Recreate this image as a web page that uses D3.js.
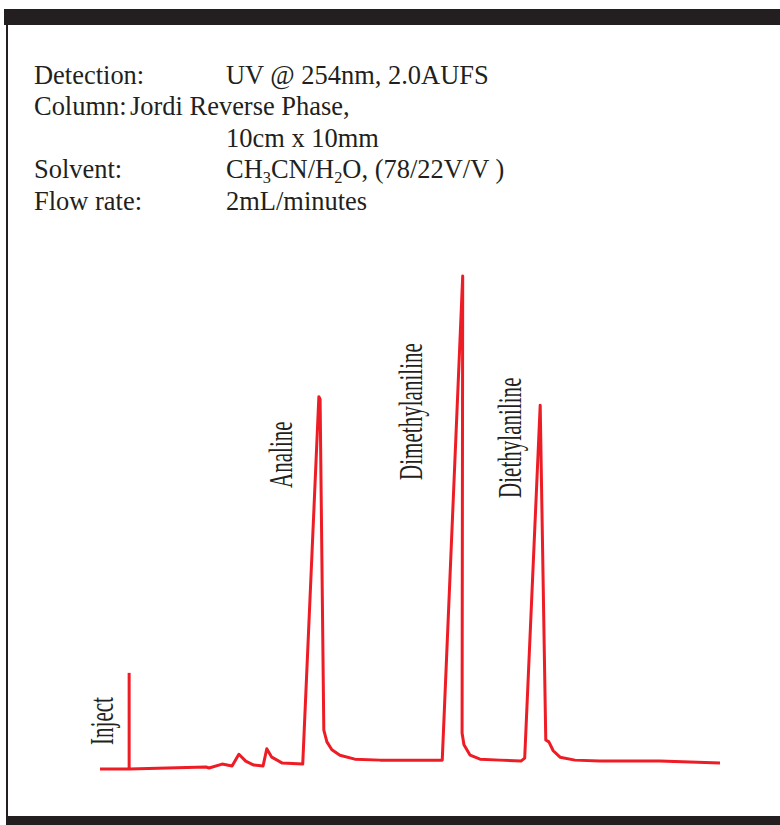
<!DOCTYPE html>
<html><head><meta charset="utf-8">
<script src="https://cdn.jsdelivr.net/npm/d3@7"></script>
<style>html,body{margin:0;padding:0;background:#fff}</style>
</head><body>
<script>
// ---- data ----
// header conditions
const headerLabels = ["Detection:", "Column:", "", "Solvent:", "Flow rate:"];
const headerValues = [
  [["UV @ 254nm, 2.0AUFS", 0]],
  [["Jordi Reverse Phase,", 0]],
  [["10cm x 10mm", 0]],
  [["CH", 0], ["3", 1], ["CN/H", 0], ["2", 1], ["O, (78/22V/V )", 0]],
  [["2mL/minutes", 0]]
];
// chromatogram trace: time (min, arbitrary) and detector response (% full scale)
const traceTime = [0.00, 0.47, 1.71, 1.76, 1.97, 2.13, 2.24, 2.35, 2.48, 2.63, 2.69, 2.77, 2.94, 3.27,
  3.53, 3.55, 3.61, 3.66, 3.74, 3.87, 4.11, 4.52, 5.52,
  5.85, 5.84, 5.87, 5.97, 6.13, 6.45, 6.79, 6.85,
  7.10, 7.19, 7.24, 7.31, 7.42, 7.66, 8.06, 9.03, 10.0];
const traceSignal = [0.0, 0.0, 0.4, 0.2, 1.0, 0.6, 3.0, 1.6, 0.8, 0.6, 4.1, 2.4, 1.2, 1.0,
  75.5, 75.0, 7.9, 5.5, 3.9, 2.8, 2.0, 1.8, 1.8,
  100, 7.3, 4.9, 2.8, 2.0, 1.8, 1.6, 2.2,
  73.8, 5.9, 5.5, 3.7, 2.4, 1.8, 1.6, 1.6, 1.2];
const injectTime = 0.47;
const injectHeight = 19.5;
const peakNames = ["Analine", "Dimethylaniline", "Diethylaniline"];
const peakTimes = [3.53, 5.85, 7.10];

// ---- drawing ----
const W = 780, H = 825;
const svg = d3.select("body").append("svg").attr("width", W).attr("height", H)
  .style("display", "block");
svg.append("rect").attr("width", W).attr("height", H).attr("fill", "#fff");

const frameColor = "#231f20";
svg.append("rect").attr("x", 4).attr("y", 9).attr("width", W - 4).attr("height", 16).attr("fill", frameColor);
svg.append("rect").attr("x", 6).attr("y", 25).attr("width", 2).attr("height", 792).attr("fill", frameColor);
svg.append("rect").attr("x", 6).attr("y", 816).attr("width", W - 6).attr("height", 9).attr("fill", frameColor);

const font = "'Liberation Serif', 'Times New Roman', serif";
const fs = 28, hScale = 0.945;
const baselines = [84, 115, 147, 178, 210];

const hdr = svg.append("g").attr("font-family", font).attr("font-size", fs).attr("fill", "#231f20");
function htext(xp, yp) {
  return hdr.append("text").attr("transform", `translate(${xp},${yp}) scale(${hScale},1)`);
}
headerLabels.forEach((lab, i) => {
  if (lab) htext(34, baselines[i]).text(lab);
});
headerValues.forEach((parts, i) => {
  const t = htext(i === 1 ? 130 : 226, baselines[i]);
  let prevSub = false;
  parts.forEach(([s, sub]) => {
    const ts = t.append("tspan").text(s);
    if (sub) ts.attr("font-size", fs * 0.62).attr("dy", 5);
    else if (prevSub) ts.attr("dy", -5);
    prevSub = !!sub;
  });
});

const x = d3.scaleLinear().domain([0, 10]).range([100, 720]);
const y = d3.scaleLinear().domain([0, 100]).range([769, 276]);

const red = "#ee1c25";
const pts = traceTime.map((t, i) => [t, traceSignal[i]]);
svg.append("path").datum(pts)
  .attr("d", d3.line().x(d => x(d[0])).y(d => y(d[1])))
  .attr("fill", "none").attr("stroke", red).attr("stroke-width", 3)
  .attr("stroke-linejoin", "round").attr("stroke-linecap", "butt");

svg.append("line")
  .attr("x1", x(injectTime)).attr("x2", x(injectTime))
  .attr("y1", y(0)).attr("y2", y(injectHeight))
  .attr("stroke", red).attr("stroke-width", 3);

// rotated labels
const lblSize = 34, lblScale = 0.62;
function vlabel(text, bx, by) {
  svg.append("text")
    .attr("transform", `translate(${bx},${by}) rotate(-90) scale(${lblScale},1)`)
    .attr("font-family", font).attr("font-size", lblSize).attr("fill", "#231f20")
    .text(text);
}
vlabel("Inject", x(injectTime) - 16, y(0) - 24);
const lblDx = [-27, -41, -19];
const lblBottom = [488, 480, 498];
peakNames.forEach((n, i) => vlabel(n, x(peakTimes[i]) + lblDx[i], lblBottom[i]));
</script>
</body></html>
